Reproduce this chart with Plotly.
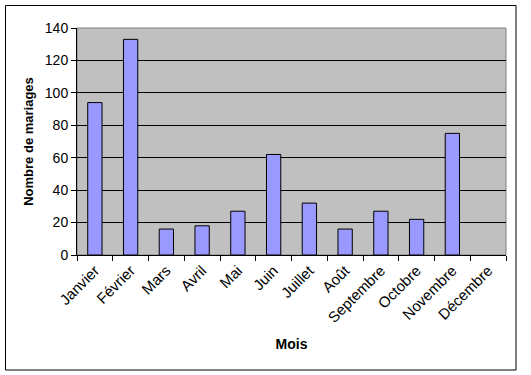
import plotly.graph_objects as go

mois = ["Janvier", "Février", "Mars", "Avril", "Mai", "Juin", "Juillet",
        "Août", "Septembre", "Octobre", "Novembre", "Décembre"]
mariages = [94, 133, 16, 18, 27, 62, 32, 16, 27, 22, 75, None]

W, H = 531, 375
ML, MR, MT, MB = 77, 25, 28, 120
pw, ph = W - ML - MR, H - MT - MB

fig = go.Figure(go.Bar(
    x=mois, y=mariages,
    marker=dict(color="#9999FF", line=dict(color="black", width=1)),
))

font = "Liberation Sans, Arial, sans-serif"

def px_x(p):
    return (p - ML) / pw

def px_y(p):
    return (H - MB - p) / ph

fig.add_shape(type="rect", xref="paper", yref="paper",
              x0=px_x(5.5), x1=px_x(516), y0=px_y(370), y1=px_y(5.5),
              line=dict(color="black", width=1), layer="below")
fig.add_shape(type="rect", xref="paper", yref="paper",
              x0=0, x1=1, y0=0, y1=1,
              line=dict(color="#808080", width=1), layer="below")

fig.update_layout(
    width=W, height=H,
    margin=dict(l=ML, r=MR, t=MT, b=MB),
    paper_bgcolor="white", plot_bgcolor="#C0C0C0",
    bargap=0.6, showlegend=False,
    font=dict(family=font, color="black", size=13),
)
fig.update_xaxes(
    type="category", range=[-0.5, 11.5],
    tickson="boundaries", ticks="outside", ticklen=5, tickcolor="black",
    showline=True, linecolor="black", linewidth=1,
    showgrid=False, tickangle=-45, tickfont=dict(size=15),
    title=dict(text="<b>Mois</b>", font=dict(size=14), standoff=14),
)
fig.update_yaxes(
    range=[0, 140], dtick=20, tick0=0,
    ticks="outside", ticklen=5, tickcolor="black",
    showline=True, linecolor="black", linewidth=1,
    showgrid=True, gridcolor="black", gridwidth=1,
    zeroline=False, tickfont=dict(size=14),
    title=dict(text="<b>Nombre de mariages</b>", font=dict(size=13), standoff=8),
)

fig.write_html("out.html")
